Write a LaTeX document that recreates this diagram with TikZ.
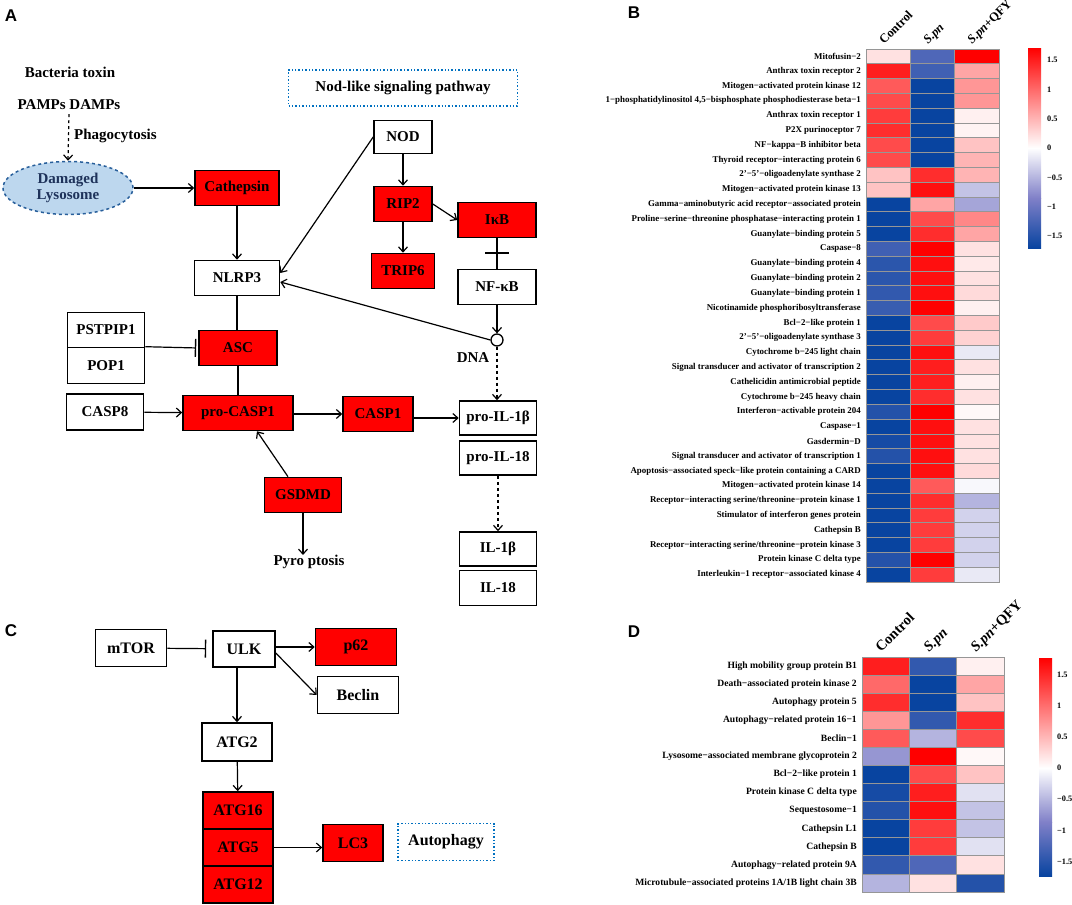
\documentclass[tikz,border=0pt]{standalone}
\usepackage{fontspec}
\setmainfont{Liberation Serif}
\setsansfont{Liberation Sans}
\usetikzlibrary{arrows.meta,shapes.geometric}
\definecolor{hred}{RGB}{255,0,0}
\definecolor{hmid}{RGB}{128,128,200}
\definecolor{hdark}{RGB}{8,68,160}
\definecolor{boxred}{RGB}{255,0,0}
\definecolor{lyso}{RGB}{189,215,238}
\definecolor{lysoedge}{RGB}{40,95,155}
\definecolor{lysotext}{RGB}{30,50,90}
\definecolor{dotblue}{RGB}{0,112,192}
\definecolor{gridg}{RGB}{150,150,150}
\newcommand\setheat[1]{%
 \pgfmathsetmacro\heatv{#1}%
 \pgfmathsetmacro\heatt{min(1,abs(\heatv)/1.7)}%
 \ifdim\heatv pt>0pt
   \pgfmathsetmacro\heatp{100*\heatt}\colorlet{heatc}{hred!\heatp!white}%
 \else
   \ifdim\heatt pt<0.5pt
     \pgfmathsetmacro\heatp{200*\heatt}\colorlet{heatc}{hmid!\heatp!white}%
   \else
     \pgfmathsetmacro\heatp{200*\heatt-100}\colorlet{heatc}{hdark!\heatp!hmid}%
   \fi
 \fi}
\tikzset{
  boxfont/.style={font=\bfseries\fontsize{15}{18}\selectfont},
  cfont/.style={font=\bfseries\fontsize{16}{19}\selectfont},
  wbox/.style={draw, line width=1.6pt, fill=white, minimum height=35pt, inner sep=0pt, boxfont},
  rbox/.style={wbox, fill=boxred},
  txt/.style={inner sep=0pt, boxfont},
  dotbox/.style={draw=dotblue, dotted, line width=1.4pt, inner sep=0pt, boxfont},
  conn/.style={line width=1.2pt, -{Straight Barb[length=5pt,width=9pt]}},
  inh/.style={line width=1.2pt, -{Bar[width=18pt,line width=1.4pt]}},
  plain/.style={line width=1.2pt},
  panel/.style={font=\sffamily\bfseries\fontsize{17}{20}\selectfont, inner sep=0pt},
  rowlab/.style={anchor=east, inner sep=0pt, font=\bfseries\fontsize{8.9}{10}\selectfont},
  rowlabd/.style={anchor=east, inner sep=0pt, font=\bfseries\fontsize{9.6}{11}\selectfont},
  collab/.style={anchor=base west, rotate=45, inner sep=0pt, font=\bfseries\fontsize{12.5}{14}\selectfont},
  collabd/.style={anchor=base west, rotate=45, inner sep=0pt, font=\bfseries\fontsize{14.5}{17}\selectfont},
  cbar/.style={anchor=west, inner sep=0pt, font=\bfseries\fontsize{8.3}{9}\selectfont},
  cell/.style={fill=heatc, draw=gridg, line width=0.9pt},
}
\begin{document}
\begin{tikzpicture}[x=1pt,y=-1pt]
\useasboundingbox (0,0) rectangle (1072,905);
% ================= Panel A =================
\node[panel] (la) at (11,16) {A};
\node[txt] (bt) at (70,72) {Bacteria toxin};
\node[txt] (pd) at (69,105) {PAMPs DAMPs};
\node[txt, anchor=west] (phago) at (74,136) {Phagocytosis};
\node[ellipse, draw=lysoedge, dashed, line width=1.5pt, fill=lyso, minimum width=130pt, minimum height=53pt, inner sep=0pt, align=center, boxfont, text=lysotext] (lyso) at (68,188) {Damaged\\[-2pt]Lysosome};
\draw[conn, dashed] ([yshift=-4pt]pd.south) -- (lyso.north);
\node[rbox, minimum width=84pt] (cath) at (237,188) {Cathepsin};
\node[wbox, minimum width=85pt] (nlrp3) at (237,278) {NLRP3};
\draw[conn] (lyso) -- (cath);
\draw[conn] (cath) -- (nlrp3);
\node[dotbox, minimum width=229pt, minimum height=36pt] (nodlike) at (403,88) {Nod-like signaling pathway};
\node[wbox, minimum width=58pt, minimum height=33pt] (nod) at (403,137) {NOD};
\node[rbox, minimum width=58pt] (rip2) at (403,204) {RIP2};
\node[rbox, minimum width=63pt] (trip6) at (403,271) {TRIP6};
\node[rbox, minimum width=78pt] (ikb) at (497,220) {IκB};
\node[wbox, minimum width=78pt] (nfkb) at (497,287) {NF-κB};
\draw[conn] (nod) -- (rip2);
\draw[conn] (rip2) -- (trip6);
\draw[conn] (rip2.east) -- (ikb.west);
\draw[plain] (ikb) -- (nfkb);
\draw[line width=1.4pt] (485,253) -- (509,253);
\node[circle, draw, line width=1.3pt, fill=white, minimum size=12pt, inner sep=0pt] (dna) at (497,340) {};
\node[txt] (dnal) at (473,358) {DNA};
\draw[conn] (nfkb) -- (dna);
\draw[conn] (dna.west) -- ([yshift=-4pt]nlrp3.east);
\draw[conn] (nod.west) -- ([yshift=5pt]nlrp3.east);
\node[rbox, minimum width=78pt] (asc) at (238,348) {ASC};
\node[wbox, minimum width=77pt] (pstpip1) at (106,330) {PSTPIP1};
\node[wbox, minimum width=77pt, minimum height=36pt] (pop1) at (106,365.5) {POP1};
\draw[plain] (nlrp3.south) -- (nlrp3.south |- asc.north);
\draw[inh, shorten >=2pt] (pop1.north east) -- (asc.west);
\node[rbox, minimum width=110pt] (procasp1) at (238,413) {pro-CASP1};
\node[wbox, minimum width=77pt, minimum height=36pt] (casp8) at (105,412) {CASP8};
\draw[plain] (asc.south) -- (asc.south |- procasp1.north);
\draw[conn] (casp8) -- (procasp1);
\node[rbox, minimum width=70pt] (casp1) at (378,414) {CASP1};
\draw[conn] (procasp1.east |- casp1.west) -- (casp1.west);
\node[wbox, minimum width=77pt, minimum height=34pt] (proil1b) at (498,418) {pro-IL-1β};
\node[wbox, minimum width=77pt, minimum height=34pt] (proil18) at (498,458) {pro-IL-18};
\draw[conn] ([yshift=-3pt]casp1.east) -- (casp1.east |- proil1b.west) -- (proil1b.west);
\draw[conn, dashed] (dna.south) -- (dna.south |- proil1b.north);
\node[wbox, minimum width=77pt, minimum height=34pt] (il1b) at (498,549) {IL-1β};
\node[wbox, minimum width=77pt] (il18) at (498,588) {IL-18};
\draw[conn, dashed] (proil18) -- (il1b);
\node[rbox, minimum width=77pt] (gsdmd) at (303,495) {GSDMD};
\draw[conn] ([xshift=-15pt]gsdmd.north) -- ([xshift=19pt]procasp1.south);
\node[txt] (pyro) at (309,562) {Pyro ptosis};
\draw[conn] (gsdmd.south) -- (gsdmd.south |- pyro.north);
% ================= Panel C =================
\node[panel] (lc) at (11,631) {C};
\node[wbox, cfont, minimum width=71pt, minimum height=37pt] (mtor) at (131,648) {mTOR};
\node[wbox, cfont, minimum width=62pt, minimum height=36pt] (ulk) at (244,649) {ULK};
\node[rbox, cfont, minimum width=81pt, minimum height=37pt] (p62) at (356,647) {p62};
\node[wbox, cfont, minimum width=81pt, minimum height=37pt] (beclin) at (358,695) {Beclin};
\node[wbox, cfont, minimum width=70pt, minimum height=38pt] (atg2) at (237,742) {ATG2};
\node[rbox, cfont, minimum width=70pt, minimum height=37pt] (atg16) at (238,810.5) {ATG16};
\node[rbox, cfont, minimum width=70pt, minimum height=37pt] (atg5) at (238,847.5) {ATG5};
\node[rbox, cfont, minimum width=70pt, minimum height=37pt] (atg12) at (238,884.5) {ATG12};
\node[rbox, cfont, minimum width=60pt, minimum height=37pt] (lc3) at (353,843) {LC3};
\node[dotbox, cfont, minimum width=96pt, minimum height=37pt] (autoph) at (446,842) {Autophagy};
\draw[inh, shorten >=6pt] (mtor) -- (ulk);
\draw[conn] (ulk.east |- p62.west) -- (p62.west);
\draw[conn] ([yshift=-4pt]ulk.east) -- (beclin.west);
\draw[conn] (atg2.north |- ulk.south) -- (atg2.north);
\draw[conn] (atg2) -- (atg16);
\draw[conn] (atg5.east) -- (lc3.west |- atg5.east);
% ================= Panel B heatmap =================
\node[panel] (lb) at (634,13) {B};
\foreach \a/\b/\c [count=\i] in {
 0.2/-1.2/1.7, 1.5/-1.3/0.6, 1.1/-1.7/0.7, 1.2/-1.7/0.7, 1.3/-1.7/0.1,
 1.4/-1.7/0.08, 1.2/-1.7/0.4, 1.2/-1.7/0.5, 0.4/1.4/0.5, 0.4/1.6/-0.4,
 -1.7/0.6/-0.6, -1.7/1.2/0.8, -1.7/1.4/0.6, -1.3/1.7/0.2, -1.45/1.6/0.15,
 -1.45/1.6/0.2, -1.4/1.6/0.25, -1.35/1.7/0.1, -1.7/1.2/0.35, -1.7/1.3/0.3,
 -1.7/1.6/-0.15, -1.7/1.5/0.2, -1.7/1.5/0.1, -1.7/1.4/0.2, -1.5/1.7/0.05,
 -1.7/1.6/0.2, -1.6/1.6/0.2, -1.5/1.6/0.2, -1.7/1.6/0.25, -1.7/1.1/-0.05,
 -1.7/1.4/-0.5, -1.7/1.3/-0.3, -1.7/1.3/-0.3, -1.7/1.3/-0.3, -1.5/1.7/-0.3,
 -1.7/1.3/-0.15} {
  \pgfmathsetmacro\yt{49+(\i-1)*14.806}
  \setheat{\a}\draw[cell] (866,\yt) rectangle ++(44.33,14.806);
  \setheat{\b}\draw[cell] (910.33,\yt) rectangle ++(44.33,14.806);
  \setheat{\c}\draw[cell] (954.67,\yt) rectangle ++(44.33,14.806);
}
\foreach \t [count=\i] in {Mitofusin−2, Anthrax toxin receptor 2, Mitogen−activated protein kinase 12, {1−phosphatidylinositol 4,5−bisphosphate phosphodiesterase beta−1}, Anthrax toxin receptor 1, P2X purinoceptor 7, NF−kappa−B inhibitor beta, Thyroid receptor−interacting protein 6, 2'−5'−oligoadenylate synthase 2, Mitogen−activated protein kinase 13, Gamma−aminobutyric acid receptor−associated protein, Proline−serine−threonine phosphatase−interacting protein 1, Guanylate−binding protein 5, Caspase−8, Guanylate−binding protein 4, Guanylate−binding protein 2, Guanylate−binding protein 1, Nicotinamide phosphoribosyltransferase, Bcl−2−like protein 1, 2'−5'−oligoadenylate synthase 3, Cytochrome b−245 light chain, Signal transducer and activator of transcription 2, Cathelicidin antimicrobial peptide, Cytochrome b−245 heavy chain, Interferon−activable protein 204, Caspase−1, Gasdermin−D, Signal transducer and activator of transcription 1, Apoptosis−associated speck−like protein containing a CARD, Mitogen−activated protein kinase 14, Receptor−interacting serine/threonine−protein kinase 1, Stimulator of interferon genes protein, Cathepsin B, Receptor−interacting serine/threonine−protein kinase 3, Protein kinase C delta type, Interleukin−1 receptor−associated kinase 4} {
  \node[rowlab] (rb\i) at (861,{49+(\i-0.5)*14.806}) {\t};
}
\node[collab] (cb1) at (884,45) {Control};
\node[collab] (cb2) at (928,45) {\textit{S.pn}};
\node[collab] (cb3) at (972,45) {\textit{S.pn}+QFY};
% colour bar B
\shade[top color=hred, bottom color=white] (1028,48) rectangle (1041,148);
\shade[top color=white, bottom color=hmid] (1028,148) rectangle (1041,198);
\shade[top color=hmid, bottom color=hdark] (1028,198) rectangle (1041,248);
\foreach \v/\l in {1.5/1.5, 1/1, 0.5/0.5, 0/0, -0.5/−0.5, -1/−1, -1.5/−1.5} {
  \node[cbar] at (1047,{148-\v*58.6}) {\l};
}
% ================= Panel D heatmap =================
\node[panel] (ld) at (634,632) {D};
\foreach \a/\b/\c [count=\i] in {
 1.5/-1.4/0.1, 1.0/-1.7/0.6, 1.4/-1.7/0.4, 0.7/-1.4/1.4, 1.1/-0.5/1.2,
 -0.7/1.7/0.05, -1.7/1.2/0.4, -1.6/1.5/-0.2, -1.5/1.6/-0.4, -1.7/1.3/-0.4,
 -1.7/1.3/-0.2, -1.4/-1.2/0.2, -0.5/0.2/-1.5} {
  \pgfmathsetmacro\yt{657+(\i-1)*18.08}
  \setheat{\a}\draw[cell] (862,\yt) rectangle ++(47.33,18.08);
  \setheat{\b}\draw[cell] (909.33,\yt) rectangle ++(47.33,18.08);
  \setheat{\c}\draw[cell] (956.67,\yt) rectangle ++(47.33,18.08);
}
\foreach \t [count=\i] in {High mobility group protein B1, Death−associated protein kinase 2, Autophagy protein 5, Autophagy−related protein 16−1, Beclin−1, Lysosome−associated membrane glycoprotein 2, Bcl−2−like protein 1, Protein kinase C delta type, Sequestosome−1, Cathepsin L1, Cathepsin B, Autophagy−related protein 9A, Microtubule−associated proteins 1A/1B light chain 3B} {
  \node[rowlabd] (rd\i) at (857,{657+(\i-0.5)*18.08}) {\t};
}
\node[collabd] (cd1) at (881,653) {Control};
\node[collabd] (cd2) at (929,653) {\textit{S.pn}};
\node[collabd] (cd3) at (976,653) {\textit{S.pn}+QFY};
% colour bar D
\shade[top color=hred, bottom color=white] (1039,658) rectangle (1052,768);
\shade[top color=white, bottom color=hmid] (1039,768) rectangle (1052,822);
\shade[top color=hmid, bottom color=hdark] (1039,822) rectangle (1052,876);
\foreach \v/\l in {1.5/1.5, 1/1, 0.5/0.5, 0/0, -0.5/−0.5, -1/−1, -1.5/−1.5} {
  \node[cbar] at (1057,{768-\v*62.4}) {\l};
}
\end{tikzpicture}
\end{document}
